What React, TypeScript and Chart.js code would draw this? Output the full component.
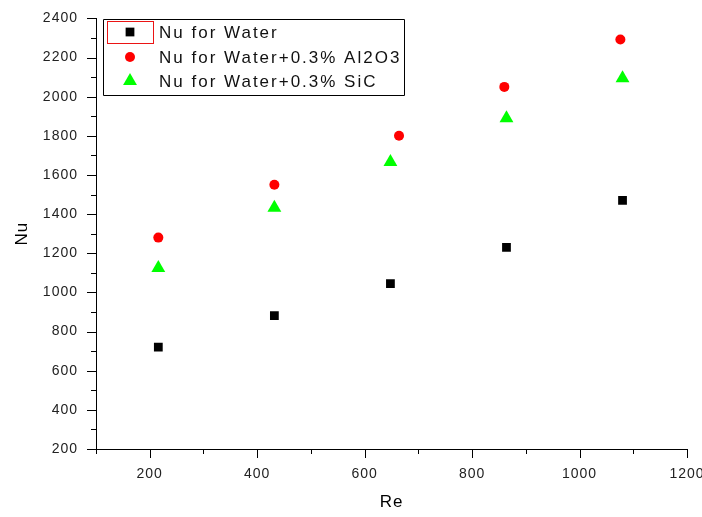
import React, { useEffect, useRef } from 'react';
import { Chart, registerables } from 'chart.js';
Chart.register(...registerables);

const reWater = [216, 432, 648, 864, 1080];
const nuWater = [720, 882, 1045, 1230, 1470];
const reAl = [216, 432, 664, 860, 1076];
const nuAl = [1280, 1550, 1800, 2050, 2292];
const reSiC = [216, 432, 648, 864, 1080];
const nuSiC = [1125, 1432, 1666, 1890, 2094];

const seriesLabels = ['Nu for Water', 'Nu for Water+0.3% Al2O3', 'Nu for Water+0.3% SiC'];
const xTitle = 'Re';
const yTitle = 'Nu';

const FONT = '"Liberation Sans", Arial, sans-serif';

function drawSymbol(ctx: CanvasRenderingContext2D, style: string, r: number, color: string, x: number, y: number) {
  ctx.save();
  ctx.fillStyle = color;
  ctx.beginPath();
  if (style === 'rect') {
    const s = r * Math.SQRT1_2;
    ctx.rect(x - s, y - s, 2 * s, 2 * s);
  } else if (style === 'circle') {
    ctx.arc(x, y, r, 0, Math.PI * 2);
  } else {
    ctx.moveTo(x, y - r);
    ctx.lineTo(x + r * Math.sin(Math.PI * 2 / 3), y - r * Math.cos(Math.PI * 2 / 3));
    ctx.lineTo(x + r * Math.sin(Math.PI * 4 / 3), y - r * Math.cos(Math.PI * 4 / 3));
    ctx.closePath();
  }
  ctx.fill();
  ctx.restore();
}

const tickPlugin = {
  id: 'originTicks',
  beforeDraw(chart: any) {
    (chart.ctx as any).letterSpacing = '1px';
  },
  afterDraw(chart: any) {
    const ctx = chart.ctx;
    const xs = chart.scales.x;
    const ys = chart.scales.y;
    ctx.save();
    ctx.strokeStyle = '#000';
    ctx.lineWidth = 1;
    ctx.beginPath();
    for (const t of xs.ticks) {
      const px = Math.round(xs.getPixelForValue(t.value)) + 0.5;
      const len = t.value % 200 === 0 ? 9 : 5;
      ctx.moveTo(px, xs.top);
      ctx.lineTo(px, xs.top + len);
    }
    for (const t of ys.ticks) {
      const py = Math.round(ys.getPixelForValue(t.value)) + 0.5;
      const len = t.value % 200 === 0 ? 9 : 5;
      ctx.moveTo(ys.right, py);
      ctx.lineTo(ys.right - len, py);
    }
    ctx.stroke();

    // legend frame
    ctx.beginPath();
    ctx.strokeStyle = '#000000';
    ctx.rect(103.5, 19.5, 301, 76);
    ctx.stroke();
    // selection marker around the first legend symbol
    ctx.fillStyle = 'rgb(235,20,20)';
    ctx.fillRect(107, 21, 47, 1);
    ctx.fillRect(107, 43, 47, 1);
    ctx.fillRect(107, 21, 1, 23);
    ctx.fillRect(153, 21, 1, 23);

    const rows = [32, 57, 81];
    ctx.font = '17px ' + FONT;
    (ctx as any).letterSpacing = '2px';
    ctx.textBaseline = 'middle';
    ctx.textAlign = 'left';
    chart.data.datasets.forEach((ds: any, i: number) => {
      const y = rows[i];
      drawSymbol(ctx, ds.pointStyle, ds.pointRadius, ds.backgroundColor, 130, y);
      ctx.fillStyle = '#111';
      ctx.fillText(ds.label, 159, y + 1);
    });
    ctx.restore();
  },
};

export default function App() {
  const ref = useRef<HTMLCanvasElement>(null);
  useEffect(() => {
    document.body.style.margin = '0';
    const ctxEl = ref.current!;
    const chart = new Chart(ctxEl, {
      type: 'scatter',
      data: {
        datasets: [
          {
            label: seriesLabels[0],
            data: reWater.map((x, i) => ({ x, y: nuWater[i] })),
            pointStyle: 'rect',
            pointRadius: 6.2,
            backgroundColor: '#000',
            borderColor: '#000',
            borderWidth: 0,
          },
          {
            label: seriesLabels[1],
            data: reAl.map((x, i) => ({ x, y: nuAl[i] })),
            pointStyle: 'circle',
            pointRadius: 5,
            backgroundColor: '#ff0000',
            borderColor: '#ff0000',
            borderWidth: 0,
          },
          {
            label: seriesLabels[2],
            data: reSiC.map((x, i) => ({ x, y: nuSiC[i] })),
            pointStyle: 'triangle',
            pointRadius: 8,
            backgroundColor: '#00ff00',
            borderColor: '#00ff00',
            borderWidth: 0,
          },
        ],
      },
      options: {
        animation: false,
        responsive: false,
        maintainAspectRatio: false,
        layout: { padding: { top: 17, right: 0, left: 0, bottom: 0 } },
        plugins: { legend: { display: false }, tooltip: { enabled: false } },
        scales: {
          x: {
            type: 'linear',
            min: 100,
            max: 1200,
            grid: { display: false },
            border: { display: true, color: '#000', width: 1 },
            ticks: {
              stepSize: 100,
              autoSkip: false,
              maxRotation: 0,
              padding: 9,
              color: '#222',
              font: { family: FONT, size: 14 },
              callback: (v: any) => (v % 200 === 0 ? String(v) : ''),
            },
            title: { display: true, text: xTitle, color: '#000', font: { family: FONT, size: 17 }, padding: { top: 13 } },
            afterFit: (s: any) => { s.height = 68; s.paddingRight = 15; s.paddingLeft = 0; },
          },
          y: {
            type: 'linear',
            min: 200,
            max: 2400,
            grid: { display: false },
            border: { display: true, color: '#000', width: 1 },
            ticks: {
              stepSize: 100,
              autoSkip: false,
              padding: 10,
              color: '#222',
              font: { family: FONT, size: 14 },
              callback: (v: any) => (v % 200 === 0 ? String(v) : ''),
            },
            title: { display: true, text: yTitle, color: '#000', font: { family: FONT, size: 17 }, padding: { top: 12, bottom: 8 } },
            afterFit: (s: any) => { s.width = 96; },
          },
        },
      },
      plugins: [tickPlugin],
    });
    return () => chart.destroy();
  }, []);
  return <canvas ref={ref} width={702} height={517} style={{ display: 'block' }} />;
}
